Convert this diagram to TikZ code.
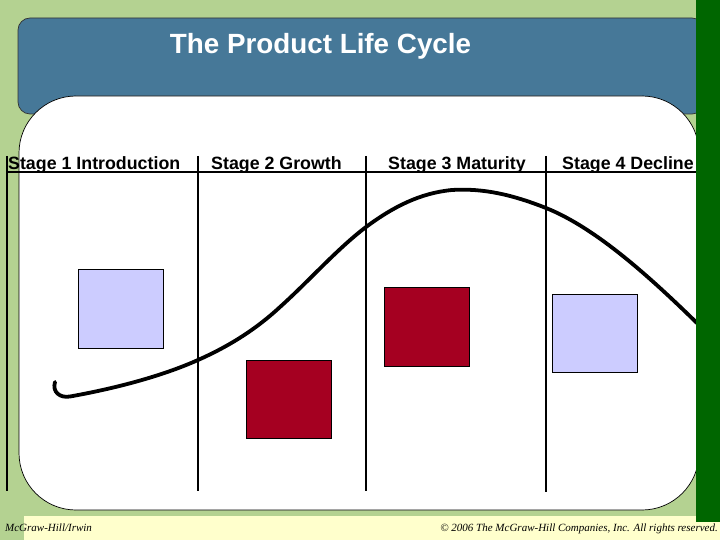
\documentclass[tikz,border=0pt]{standalone}
\usepackage{fontspec}
\setmainfont{Liberation Sans}
\newfontfamily\footserif{Liberation Serif}
\definecolor{bggreen}{RGB}{180,210,145}
\definecolor{bannerblue}{RGB}{70,120,152}
\definecolor{darkgreen}{RGB}{0,102,0}
\definecolor{paleyellow}{RGB}{255,255,204}
\definecolor{lavender}{RGB}{204,204,255}
\definecolor{boxred}{RGB}{165,0,33}
\tikzset{
  stagelabel/.style={anchor=base west,inner sep=0pt,font=\fontsize{17.8}{20}\selectfont\bfseries},
  divider/.style={line width=2pt,black},
  squarebox/.style={draw=black,line width=0.9pt,minimum width=85pt,minimum height=78.5pt,inner sep=0pt},
  lavbox/.style={squarebox,fill=lavender},
  redbox/.style={squarebox,fill=boxred},
  footnote/.style={anchor=base west,inner sep=0pt,font=\footserif\itshape\fontsize{11}{13}\selectfont}
}
\begin{document}
\begin{tikzpicture}[x=1pt,y=-1pt]
\useasboundingbox (0,0) rectangle (720,540);
% background
\fill[bggreen] (0,0) rectangle (720,540);
\fill[paleyellow] (24,515.5) rectangle (720,540);
% banner
\filldraw[fill=bannerblue,draw=black!80,line width=0.7pt,rounded corners=12pt] (18,18) rectangle (704,114);
% white panel
\filldraw[fill=white,draw=black,line width=0.7pt,rounded corners=57pt] (19,96) rectangle (699,510);
% title
\node[anchor=base,inner sep=0pt,text=white,font=\fontsize{27.8}{30}\selectfont\bfseries] (title) at (320.5,54) {The Product Life Cycle};
% stage labels
\node[stagelabel] (s1) at (8,170) {Stage 1 Introduction};
\node[stagelabel] (s2) at (211,170) {Stage 2 Growth};
\node[stagelabel] (s3) at (388,170) {Stage 3 Maturity};
\node[stagelabel] (s4) at (562,170) {Stage 4 Decline};
% dividers
\coordinate (v1t) at (7,156);   \coordinate (v1b) at (7,491);
\coordinate (v2t) at (198,156); \coordinate (v2b) at (198,491);
\coordinate (v3t) at (366,156); \coordinate (v3b) at (366,491);
\coordinate (v4t) at (546,156); \coordinate (v4b) at (546,492);
\coordinate (hl) at (7,172.5);  \coordinate (hr) at (700,172.5);
\draw[divider] (v1t) -- (v1b);
\draw[divider] (v2t) -- (v2b);
\draw[divider] (v3t) -- (v3b);
\draw[divider] (v4t) -- (v4b);
\draw[divider] (hl) -- (hr);
% boxes
\node[lavbox] (b1) at (120.5,309) {};
\node[redbox] (b2) at (288.5,399.5) {};
\node[redbox] (b3) at (426.5,327) {};
\node[lavbox] (b4) at (594.5,333.5) {};
% curve
\draw[line width=3.8pt,line cap=round,line join=round]
  (55,382) .. controls (52,392) and (60,398.3) .. (70,396.5)
  .. controls (112,389) and (160,377) .. (198,360)
  .. controls (225,348) and (253,332) .. (280,307)
  .. controls (309,281) and (337,249) .. (366,227)
  .. controls (393,207) and (420,193) .. (452,190)
  .. controls (484,188) and (513,195) .. (546,208)
  .. controls (596,228) and (650,277) .. (700,326);
% dark green band
\fill[darkgreen] (696,0) rectangle (720,522);
% footer
\node[footnote] (f1) at (5,531) {McGraw-Hill/Irwin};
\node[footnote,anchor=base east] (f2) at (718,531) {© 2006 The McGraw-Hill Companies, Inc. All rights reserved.};
\end{tikzpicture}
\end{document}
